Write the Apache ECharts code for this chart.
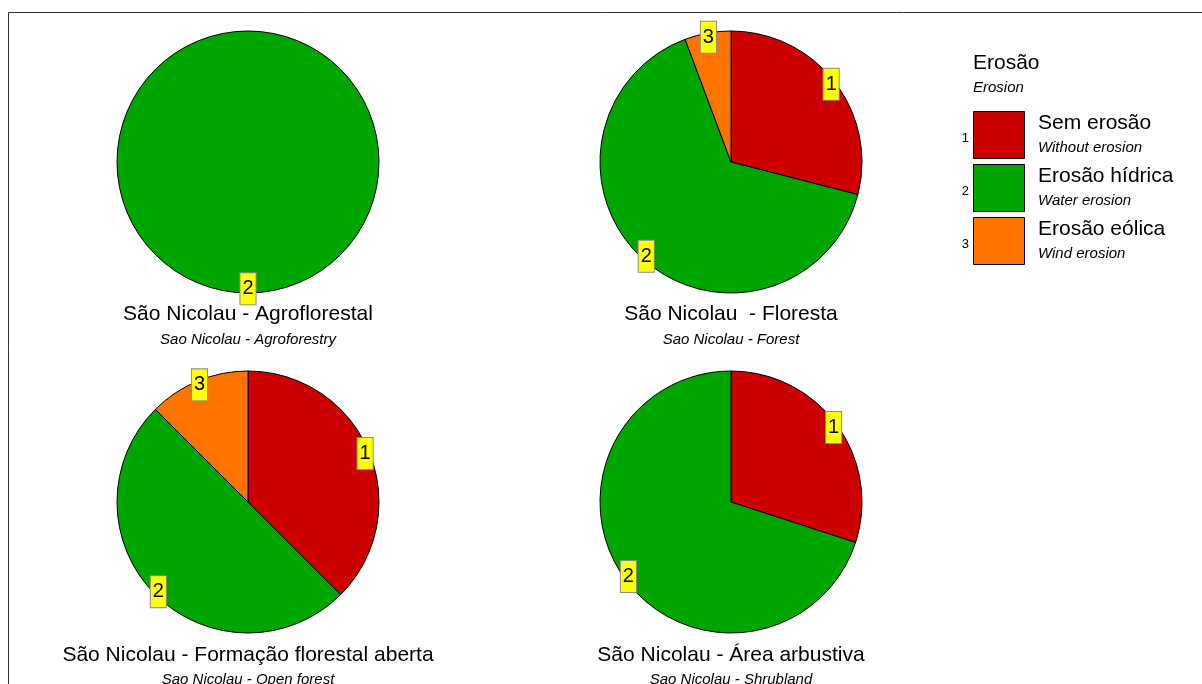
<!DOCTYPE html>
<html>
<head>
<meta charset="utf-8">
<script src="https://cdn.jsdelivr.net/npm/echarts@6/dist/echarts.min.js"></script>
<style>
html,body{margin:0;padding:0;background:#fff;}
#chart{width:1202px;height:684px;}
</style>
</head>
<body>
<div id="chart"></div>
<script>
// ---- data ----
const codes = ['1', '2', '3'];
const categoriesPt = ['Sem erosão', 'Erosão hídrica', 'Erosão eólica'];
const categoriesEn = ['Without erosion', 'Water erosion', 'Wind erosion'];
const legendTitlePt = 'Erosão';
const legendTitleEn = 'Erosion';

const valuesAgroflorestal = [0, 100, 0];
const valuesFloresta = [29, 65.3, 5.7];
const valuesFormacaoAberta = [37.5, 50, 12.5];
const valuesArbustiva = [30, 70, 0];

const titlesPt = ['São Nicolau - Agroflorestal', 'São Nicolau  - Floresta', 'São Nicolau - Formação florestal aberta', 'São Nicolau - Área arbustiva'];
const titlesEn = ['Sao Nicolau - Agroforestry', 'Sao Nicolau - Forest', 'Sao Nicolau - Open forest', 'Sao Nicolau - Shrubland'];

// ---- styles / layout ----
const colors = ['#cc0000', '#00a600', '#ff7300'];
const FONT = '"Liberation Sans", Arial, sans-serif';
const R = 131;
const centers = [[248, 162], [731, 162], [248, 502], [731, 502]];
const titleY = [[314, 340], [314, 340], [655, 680], [655, 680]];
const allValues = [valuesAgroflorestal, valuesFloresta, valuesFormacaoAberta, valuesArbustiva];

function buildData(vals) {
  const d = [];
  vals.forEach((v, i) => {
    if (v > 0) d.push({ name: codes[i], value: v, itemStyle: { color: colors[i] } });
  });
  return d;
}

const series = [];
allValues.forEach((vals, k) => {
  series.push({
    type: 'pie',
    center: centers[k],
    radius: [0, R],
    startAngle: 90,
    clockwise: true,
    silent: true,
    animation: false,
    itemStyle: { borderColor: '#000', borderWidth: 1 },
    label: { show: false },
    labelLine: { show: false },
    emphasis: { disabled: true },
    data: buildData(vals)
  });
  // label-carrier series: same slices, labels placed near rim
  series.push({
    type: 'pie',
    center: centers[k],
    radius: [0, R * 2 * 0.945],
    startAngle: 90,
    clockwise: true,
    silent: true,
    animation: false,
    z: 5,
    itemStyle: { color: 'rgba(0,0,0,0)', borderWidth: 0 },
    label: {
      show: true,
      position: 'inside',
      formatter: '{b}',
      color: '#000',
      fontFamily: FONT,
      fontSize: 20,
      lineHeight: 23,
      backgroundColor: '#ffff00',
      borderColor: '#8c8c8c',
      borderWidth: 1,
      padding: [4, 2, 4, 2]
    },
    labelLine: { show: false },
    emphasis: { disabled: true },
    data: buildData(vals).map(d => ({ name: d.name, value: d.value }))
  });
});

const graphics = [];
// frame
graphics.push({
  type: 'polyline',
  shape: { points: [[8.5, 684], [8.5, 12.5], [1202, 12.5]] },
  style: { stroke: '#333', lineWidth: 1, fill: null },
  silent: true
});
// pie titles
titlesPt.forEach((t, k) => {
  graphics.push({
    type: 'text', x: centers[k][0], y: titleY[k][0],
    style: { text: t, fill: '#000', font: '21px ' + FONT, textAlign: 'center', textVerticalAlign: 'middle' }
  });
  graphics.push({
    type: 'text', x: centers[k][0], y: titleY[k][1],
    style: { text: titlesEn[k], fill: '#000', font: 'italic 15px ' + FONT, textAlign: 'center', textVerticalAlign: 'middle' }
  });
});
// legend
graphics.push({ type: 'text', x: 973, y: 63, style: { text: legendTitlePt, fill: '#000', font: '21px ' + FONT, textVerticalAlign: 'middle' } });
graphics.push({ type: 'text', x: 973, y: 88, style: { text: legendTitleEn, fill: '#000', font: 'italic 15px ' + FONT, textVerticalAlign: 'middle' } });
categoriesPt.forEach((c, i) => {
  const y0 = 111 + i * 53;
  graphics.push({ type: 'rect', shape: { x: 973.5, y: y0 + 0.5, width: 51, height: 47 }, style: { fill: colors[i], stroke: '#000', lineWidth: 1 } });
  graphics.push({ type: 'text', x: 969, y: y0 + 27, style: { text: codes[i], fill: '#000', font: '13px ' + FONT, textAlign: 'right', textVerticalAlign: 'middle' } });
  graphics.push({ type: 'text', x: 1038, y: y0 + 12, style: { text: c, fill: '#000', font: '21px ' + FONT, textVerticalAlign: 'middle' } });
  graphics.push({ type: 'text', x: 1038, y: y0 + 37, style: { text: categoriesEn[i], fill: '#000', font: 'italic 15px ' + FONT, textVerticalAlign: 'middle' } });
});

const chart = echarts.init(document.getElementById('chart'));
chart.setOption({
  backgroundColor: '#fff',
  animation: false,
  series: series,
  graphic: graphics
});
</script>
</body>
</html>
